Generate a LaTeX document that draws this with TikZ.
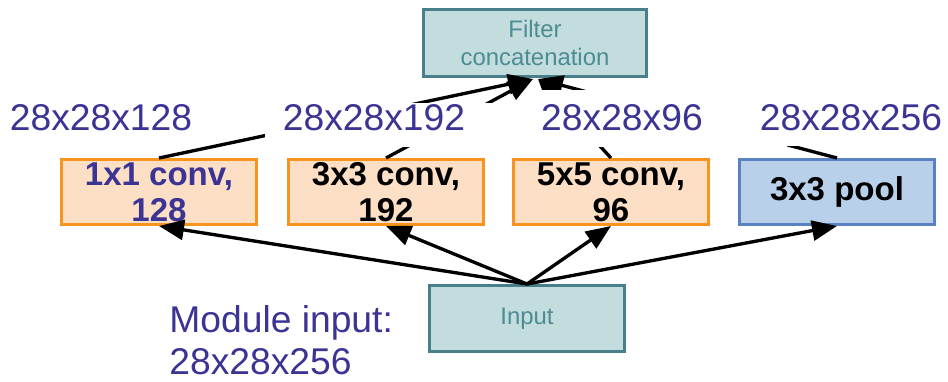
\documentclass[tikz,border=0pt]{standalone}
\usepackage{fontspec}
\setmainfont{Liberation Sans}
\usetikzlibrary{arrows.meta}
\definecolor{lblue}{RGB}{59,52,148}
\definecolor{ofill}{RGB}{252,223,196}
\definecolor{oline}{RGB}{247,148,30}
\definecolor{pfill}{RGB}{185,208,235}
\definecolor{pline}{RGB}{90,130,194}
\definecolor{tfill}{RGB}{195,220,222}
\definecolor{tline}{RGB}{71,128,138}
\definecolor{ttext}{RGB}{76,140,147}
\tikzset{
  convbox/.style={draw=oline, fill=ofill, line width=1.7pt, minimum width=3.9cm, minimum height=1.3cm, inner sep=0pt, align=center, font=\fontsize{18.8}{20.5}\selectfont\bfseries},
  poolbox/.style={convbox, draw=pline, fill=pfill},
  tealbox/.style={draw=tline, fill=tfill, line width=1.7pt, minimum width=3.9cm, minimum height=1.32cm, inner sep=0pt, align=center, text=ttext, font=\fontsize{13.6}{16}\selectfont},
  dimlabel/.style={text=lblue, inner sep=0pt, anchor=base, font=\fontsize{21.2}{24}\selectfont},
  arr/.style={line width=1.9pt, -{Triangle[length=0.5cm,width=0.4cm]}},
}
\begin{document}
\begin{tikzpicture}[x=0.02cm, y=-0.02cm]
\useasboundingbox (0,0) rectangle (948,382);
\node[tealbox, minimum width=4.46cm, minimum height=1.34cm] (filt) at (535,43) {Filter\\concatenation};
\node[convbox, text=lblue] (c1) at (159,192) {1x1 conv,\\128};
\node[convbox] (c3) at (386,192) {3x3 conv,\\192};
\node[convbox] (c5) at (611,192) {5x5 conv,\\96};
\node[poolbox] (pool) at (837,192) {3x3 pool};
\node[tealbox] (inp) at (527,318.5) {Input};
% arrows from input
\draw[arr] (inp.north) -- (c1.south);
\draw[arr] (inp.north) -- (c3.south);
\draw[arr] (inp.north) -- (c5.south);
\draw[arr] (inp.north) -- (pool.south);
% arrows to filter concatenation
\coordinate (f1) at (533,79);
\coordinate (f2) at (533,79);
\coordinate (f3) at (538,79);
\coordinate (f4) at (538,79);
\draw[arr] (c1.north) -- (f1);
\draw[arr] (c3.north) -- (f2);
\draw[arr] (c5.north) -- (f3);
\draw[arr] (pool.north) -- (f4);
% white text-box backgrounds of the dimension labels (they hide the lines)
\fill[white] (265,103) rectangle (500,147);
\fill[white] (528,90) rectangle (787,147);
\fill[white] (786,101) rectangle (948,145.5);
% dimension labels
\node[dimlabel] (l1) at (101,131) {28x28x128};
\node[dimlabel] (l2) at (374,131) {28x28x192};
\node[dimlabel] (l3) at (622,131) {28x28x96};
\node[dimlabel] (l4) at (851,131) {28x28x256};
\node[dimlabel, anchor=base west, align=left, font=\fontsize{21.2}{24}\selectfont] (mi) at (169,374.5) {Module input:\\28x28x256};
\end{tikzpicture}
\end{document}
